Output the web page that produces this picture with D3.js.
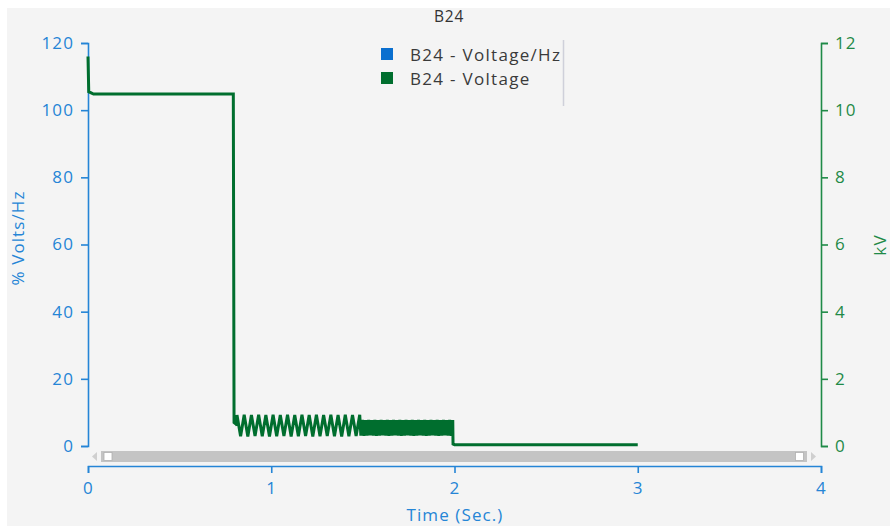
<!DOCTYPE html>
<html>
<head>
<meta charset="utf-8">
<script src="https://cdn.jsdelivr.net/npm/d3@7"></script>
<style>
  html, body { margin: 0; padding: 0; background: #ffffff; }
  svg { display: block; font-family: "Open Sans", "Noto Sans", sans-serif; }
</style>
</head>
<body>
<svg id="chart" width="890" height="526"></svg>
<script>
// Chart title and series names
const chartTitle = "B24";
const seriesNames = ["B24 - Voltage/Hz", "B24 - Voltage"];

// Axis ticks
const xTicks = [0, 1, 2, 3, 4];
const leftTicks = [0, 20, 40, 60, 80, 100, 120];
const rightTicks = [0, 2, 4, 6, 8, 10, 12];

// Voltage record (kV): pre-trip step section, as [time, kV]
const stepTimes = [0, 0.004, 0.03, 0.793, 0.797, 0.806, 0.813];
const stepKV    = [11.6, 10.55, 10.48, 10.48, 0.70, 0.66, 0.62];

// First oscillating section, sampled every oscStep seconds from oscStart
const oscStart = 0.813;
const oscStep = 0.0197;
const oscKV = [0.92, 0.29, 0.93, 0.28, 0.92, 0.30, 0.93, 0.29, 0.92, 0.28,
               0.93, 0.29, 0.92, 0.30, 0.93, 0.28, 0.92, 0.29, 0.93, 0.30,
               0.92, 0.28, 0.93, 0.29, 0.92, 0.30, 0.93, 0.29, 0.92, 0.28,
               0.93, 0.29, 0.92, 0.30, 0.93];

// Dense oscillating section, sampled every bandStep seconds from bandStart
const bandStart = 1.489;
const bandStep = 0.0085;
const bandKV = [0.31, 0.78, 0.30, 0.77, 0.31, 0.78, 0.32, 0.77, 0.31, 0.78,
                0.30, 0.77, 0.31, 0.78, 0.32, 0.77, 0.31, 0.78, 0.30, 0.77,
                0.31, 0.78, 0.32, 0.77, 0.31, 0.78, 0.30, 0.77, 0.31, 0.78,
                0.32, 0.77, 0.31, 0.78, 0.30, 0.77, 0.31, 0.78, 0.32, 0.77,
                0.31, 0.78, 0.30, 0.77, 0.31, 0.78, 0.32, 0.77, 0.31, 0.78,
                0.30, 0.77, 0.31, 0.78, 0.32, 0.77, 0.31, 0.78, 0.30, 0.77];

// Tail after the breaker opens
const tailTimes = [1.992, 2.0, 3.0];
const tailKV    = [0.06, 0.04, 0.04];

// Colours
const bgColor = "#f4f4f4";
const blueAxis = "#2585d6";
const greenAxis = "#1f8a47";
const blueSeries = "#0a6fcf";
const greenSeries = "#006e2e";

const fontFamily = "'Open Sans', 'Noto Sans', sans-serif";
const labelSize = 17;
const labelSpacing = 1.1;

const svg = d3.select("#chart");

// Panel background
svg.append("rect").attr("x", 7).attr("y", 8).attr("width", 883).attr("height", 518)
  .attr("fill", bgColor);

const plot = { left: 88, right: 821, top: 43, bottom: 446 };

const x = d3.scaleLinear().domain([0, 4]).range([plot.left, plot.right]);
const yLeft = d3.scaleLinear().domain([0, 120]).range([plot.bottom, plot.top]);
const yRight = d3.scaleLinear().domain([0, 12]).range([plot.bottom, plot.top]);

// Assemble the voltage record from its sections
const voltage = [];
stepTimes.forEach((t, i) => voltage.push([t, stepKV[i]]));
oscKV.forEach((v, i) => voltage.push([oscStart + i * oscStep, v]));
bandKV.forEach((v, i) => voltage.push([bandStart + i * bandStep, v]));
tailTimes.forEach((t, i) => voltage.push([t, tailKV[i]]));

// Title
svg.append("text").attr("x", 449).attr("y", 22).attr("text-anchor", "middle")
  .attr("font-size", 15.5).attr("letter-spacing", 0.8).attr("fill", "#333").text(chartTitle);

function styleAxis(g, color) {
  g.selectAll("path, line").attr("stroke", color).attr("stroke-width", 1.6);
  g.selectAll("text").attr("fill", color).attr("font-size", labelSize)
    .attr("letter-spacing", labelSpacing).attr("font-family", fontFamily);
}

// Left axis
const leftAxis = svg.append("g").attr("transform", `translate(${plot.left},0)`)
  .call(d3.axisLeft(yLeft).tickValues(leftTicks).tickSize(7).tickSizeOuter(7).tickPadding(7));
styleAxis(leftAxis, blueAxis);

// Right axis
const rightAxis = svg.append("g").attr("transform", `translate(${plot.right},0)`)
  .call(d3.axisRight(yRight).tickValues(rightTicks).tickSize(7).tickSizeOuter(7).tickPadding(7));
styleAxis(rightAxis, greenAxis);

// Bottom axis
const bottomAxis = svg.append("g").attr("transform", "translate(0,466)")
  .call(d3.axisBottom(x).tickValues(xTicks).tickFormat(d3.format("d"))
    .tickSize(7).tickSizeOuter(7).tickPadding(9));
styleAxis(bottomAxis, blueAxis);

// Axis titles
svg.append("text").attr("transform", "translate(24,238) rotate(-90)")
  .attr("text-anchor", "middle").attr("font-size", labelSize).attr("letter-spacing", labelSpacing)
  .attr("fill", blueAxis).text("% Volts/Hz");
svg.append("text").attr("transform", "translate(886,245) rotate(-90)")
  .attr("text-anchor", "middle").attr("font-size", labelSize).attr("letter-spacing", labelSpacing)
  .attr("fill", greenAxis).text("kV");
svg.append("text").attr("x", 455).attr("y", 521).attr("text-anchor", "middle")
  .attr("font-size", labelSize).attr("letter-spacing", labelSpacing)
  .attr("fill", blueAxis).text("Time (Sec.)");

// Scrollbar under the plot
const sb = svg.append("g");
sb.append("rect").attr("x", 101).attr("y", 451).attr("width", 706).attr("height", 11)
  .attr("fill", "#c4c4c4");
sb.append("path").attr("d", "M97,452 L92,456.5 L97,461 Z").attr("fill", "#cfcfcf");
sb.append("path").attr("d", "M811,452 L816,456.5 L811,461 Z").attr("fill", "#cfcfcf");
sb.append("rect").attr("x", 104).attr("y", 452.5).attr("width", 8).attr("height", 8)
  .attr("fill", "#ffffff").attr("stroke", "#b0b0b0").attr("stroke-width", 0.8);
sb.append("rect").attr("x", 795.5).attr("y", 452.5).attr("width", 8).attr("height", 8)
  .attr("fill", "#ffffff").attr("stroke", "#b0b0b0").attr("stroke-width", 0.8);

// Voltage trace
const line = d3.line().x(d => x(d[0])).y(d => yRight(d[1]));
svg.append("path").datum(voltage).attr("d", line)
  .attr("fill", "none").attr("stroke", greenSeries).attr("stroke-width", 3)
  .attr("stroke-linejoin", "miter").attr("stroke-miterlimit", 2);

// Legend
const legend = svg.append("g");
const legendColors = [blueSeries, greenSeries];
seriesNames.forEach((name, i) => {
  legend.append("rect").attr("x", 381).attr("y", 48 + i * 24).attr("width", 12).attr("height", 12)
    .attr("fill", legendColors[i]);
  legend.append("text").attr("x", 410).attr("y", 61 + i * 24).attr("font-size", labelSize)
    .attr("letter-spacing", 1.3).attr("fill", "#3a3a3a").text(name);
});
legend.append("line").attr("x1", 563.5).attr("x2", 563.5).attr("y1", 40).attr("y2", 106)
  .attr("stroke", "#cfd0da").attr("stroke-width", 1.5);
</script>
</body>
</html>
